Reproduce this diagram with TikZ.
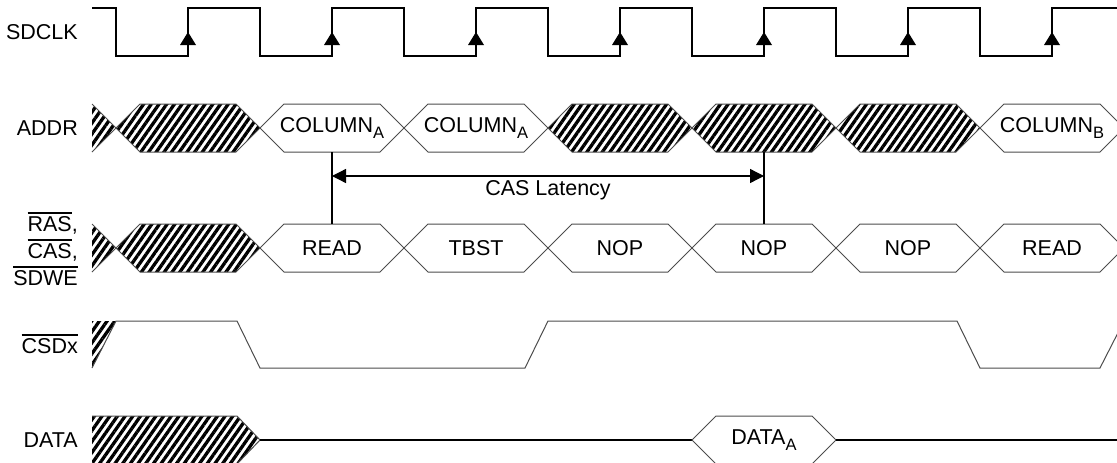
\documentclass[tikz,border=0pt]{standalone}
\usepackage{fontspec}
\setmainfont{Liberation Sans}
\usetikzlibrary{patterns.meta,arrows.meta}
\newcommand\busseg[3]{% #1 fall x, #2 mid y, #3 style
  \path[#3] (#1,#2) -- ++(24,-24) -- ++(96,0) -- ++(24,24) -- ++(-24,24) -- ++(-96,0) -- cycle;}
\newcommand\subA[1]{\raisebox{-6pt}{\fontsize{16.5}{16.5}\selectfont #1}}
\newcommand\ovl[1]{\leavevmode\vbox{\hrule height 1.6pt\kern 2.2pt\hbox{#1}}}
\begin{document}
\begin{tikzpicture}[x=1pt,y=-1pt,
  hatch/.style={pattern={Lines[angle=55,distance=6.3pt,line width=3.3pt]},pattern color=black},
  wave/.style={draw=black!70,line width=1pt},
  clk/.style={draw=black,line width=1.3pt},
  lbl/.style={anchor=east,inner sep=0pt,font=\fontsize{21.5}{24}\selectfont},
  txt/.style={inner sep=0pt,font=\fontsize{21.5}{24}\selectfont},
  marker/.style={draw=black,line width=1.3pt}]
\useasboundingbox (0,0) rectangle (1117,463);
\clip (0,0) rectangle (1117,463);
% labels
\node[lbl] (lclk) at (78,32) {SDCLK};
\node[lbl] (laddr) at (78,128) {ADDR};
\node[lbl,anchor=base east] (lras) at (78,231) {\ovl{RAS},};
\node[lbl,anchor=base east] (lcas) at (78,258) {\ovl{CAS},};
\node[lbl,anchor=base east] (lwe) at (78,285) {\ovl{SDWE}};
\node[lbl,anchor=base east] (lcs) at (78,353) {\ovl{CSDx}};
\node[lbl] (ldata) at (78,440) {DATA};
% clock
\draw[clk] (92,8) \foreach \f in {116,260,404,548,692,836,980} { -- (\f,8) -- (\f,56) -- (\f+72,56) -- (\f+72,8) } -- (1117,8);
\foreach \r in {188,332,476,620,764,908,1052} \fill (\r,32) -- (\r-8,45) -- (\r+8,45) -- cycle;
% ADDR
\path[hatch] (92,104) -- (116,128) -- (92,152) -- cycle;
\draw[wave] (92,104) -- (116,128) -- (92,152);
\foreach \f in {116,548,692,836} {\busseg{\f}{128}{hatch,wave}}
\foreach \f in {260,404,980} {\busseg{\f}{128}{wave}}
\node[txt] (ca1) at (332,128) {COLUMN\subA{A}};
\node[txt] (ca2) at (476,128) {COLUMN\subA{A}};
\node[txt] (cb) at (1052,128) {COLUMN\subA{B}};
% RAS/CAS/SDWE
\path[hatch] (92,224) -- (116,248) -- (92,272) -- cycle;
\draw[wave] (92,224) -- (116,248) -- (92,272);
\busseg{116}{248}{hatch,wave}
\foreach \f in {260,404,548,692,836,980} {\busseg{\f}{248}{wave}}
\node[txt] (c1) at (332,248) {READ};
\node[txt] (c2) at (476,248) {TBST};
\node[txt] (c3) at (620,248) {NOP};
\node[txt] (c4) at (764,248) {NOP};
\node[txt] (c5) at (908,248) {NOP};
\node[txt] (c6) at (1052,248) {READ};
% CAS latency
\coordinate (la) at (332,152); \coordinate (lb) at (332,224);
\coordinate (ra) at (764,152); \coordinate (rb) at (764,224);
\draw[marker] (la) -- (lb);
\draw[marker] (ra) -- (rb);
\coordinate (al) at (332,176); \coordinate (ar) at (764,176);
\draw[marker,{Triangle[length=14pt,width=14pt]}-{Triangle[length=14pt,width=14pt]}] (al) -- (ar);
\node[txt] (lat) at (548,190) {CAS Latency};
% CSDx
\path[hatch] (92,321) -- (116,321) -- (92,368) -- cycle;
\draw[wave] (92,368) -- (116,321) -- (237,321) -- (260,368) -- (525,368) -- (548,321) -- (957,321) -- (980,368) -- (1100,368) -- (1124,321);
% DATA
\path[hatch] (92,416) -- (237,416) -- (260,440) -- (237,464) -- (92,464) -- cycle;
\draw[wave] (92,416) -- (237,416) -- (260,440) -- (237,464);
\draw[black,line width=2pt] (260,440) -- (692,440);
\busseg{692}{440}{wave}
\draw[black,line width=1.2pt] (836,440) -- (1117,440);
\node[txt] (da) at (764,440) {DATA\subA{A}};
\end{tikzpicture}
\end{document}
